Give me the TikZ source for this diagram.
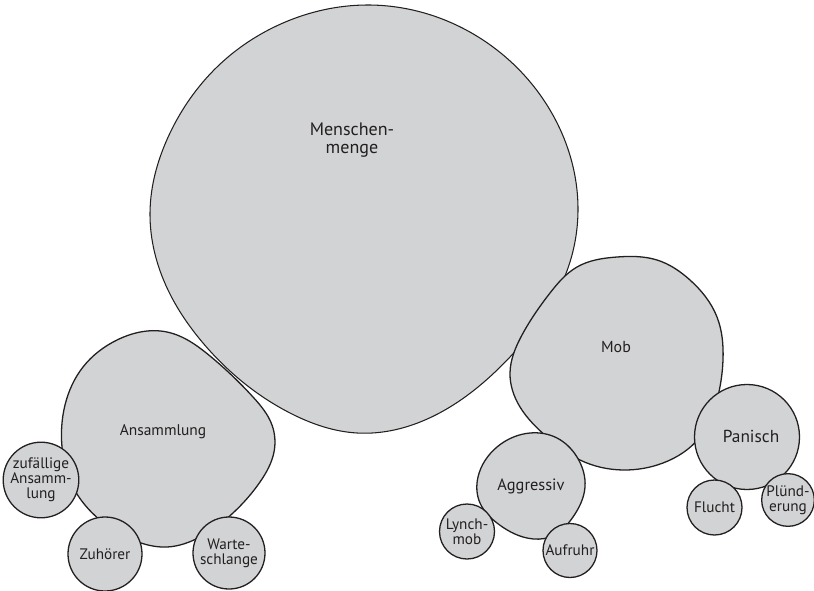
\documentclass[tikz,border=0pt]{standalone}
\usepackage{fontspec}
\setmainfont{PT Sans}
\usetikzlibrary{hobby}
\definecolor{blobfill}{RGB}{209,211,212}
\definecolor{ink}{RGB}{35,31,32}
\begin{document}
\begin{tikzpicture}[x=0.03cm,y=-0.03cm,
  blob/.style={draw=ink,fill=blobfill,line width=1.1pt,line join=round,
    use Hobby shortcut,closed=true},
  label/.style={text=ink,font=\fontsize{13.2}{12.8}\selectfont,align=center,inner sep=0pt},
  bubble/.style={circle,draw=ink,fill=blobfill,line width=1.1pt,inner sep=0pt,
    text=ink,font=\fontsize{13}{12.8}\selectfont,align=center}]
\useasboundingbox (0,0) rectangle (814,591);

% main crowd
\draw[blob,line width=0.9pt] (367,5) .. (483,40) .. (550,110) .. (578,210)
  .. (568,268) .. (510,357) .. (450,407) .. (357,433) .. (290,413)
  .. (203,343) .. (168,290) .. (150,213) .. (170,133) .. (217,67) .. (283,23);
\node[label,font=\fontsize{15.4}{15.6}\selectfont] (menge) at (352,140) {Menschen-\\menge};

% gathering and its kinds
\draw[blob] (167,332) .. (210,356) .. (253,397) .. (272,425) .. (274,452)
  .. (260,482) .. (233,513) .. (200,537) .. (167,547) .. (133,540)
  .. (100,520) .. (73,487) .. (62,447) .. (65,405) .. (83,367) .. (117,340);
\node[label] (ansammlung) at (163,432) {Ansammlung};
\node[bubble,minimum size=2.16cm] (zufall) at (41,480) {zufällige\\Ansamm-\\lung};
\node[bubble,minimum size=2.22cm] (zuhoerer) at (105,554) {Zuhörer};
\node[bubble,minimum size=2.16cm] (warte) at (229,553) {Warte-\\schlange};

% mob and its kinds
\draw[blob] (617,257) .. (577,267) .. (550,293) .. (522,335) .. (510,373)
  .. (520,407) .. (547,437) .. (580,460) .. (623,470) .. (663,463)
  .. (700,437) .. (717,400) .. (723,360) .. (717,317) .. (690,280) .. (657,260);
\node[label,font=\fontsize{13.6}{12.8}\selectfont] (mob) at (616,347) {Mob};

\node[bubble,minimum size=3.15cm] (panisch) at (747,437) {};
\node[label,font=\fontsize{14.8}{12.8}\selectfont] (panischtext) at (751,436) {Panisch};
\node[bubble,minimum size=1.65cm] (flucht) at (714.5,507.5) {Flucht};
\node[bubble,minimum size=1.58cm] (pluend) at (788,500) {Plünd-\\erung};

\draw[blob] (530,433) .. (497,447) .. (478,477) .. (480,503) .. (497,523)
  .. (527,538) .. (550,537) .. (573,517) .. (585,487) .. (577,457) .. (557,438);
\node[label,font=\fontsize{14}{12.8}\selectfont] (aggr) at (531,486) {Aggressiv};
\node[bubble,minimum size=1.65cm] (lynch) at (467,531.5) {Lynch-\\mob};
\node[bubble,minimum size=1.62cm] (aufruhr) at (570,550.5) {Aufruhr};
\end{tikzpicture}
\end{document}
